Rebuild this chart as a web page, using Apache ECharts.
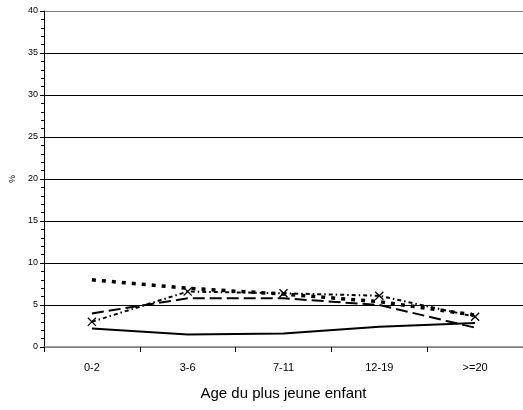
<!DOCTYPE html>
<html><head><meta charset="utf-8">
<script src="https://cdn.jsdelivr.net/npm/echarts@6/dist/echarts.min.js"></script>
<style>html,body{margin:0;padding:0;background:#fff}#c{width:523px;height:410px}</style>
</head><body><div id="c"></div>
<script>
const categories = ['0-2', '3-6', '7-11', '12-19', '>=20'];
const solidSeries = [2.2, 1.5, 1.6, 2.4, 2.85];
const longDashSeries = [4.0, 5.8, 5.8, 5.0, 2.3];
const squareDotSeries = [8.0, 7.0, 6.3, 5.4, 3.8];
const crossSeries = [3.0, 6.6, 6.4, 6.1, 3.6];
const yTicks = {min: 0, max: 40, interval: 5};

const X_PATH = 'path://M0,1L1,0L10,9L9,10Z M9,0L10,1L1,10L0,9Z';
const font = 'Liberation Sans, Arial, sans-serif';
const chart = echarts.init(document.getElementById('c'));
chart.setOption({
  animation: false,
  backgroundColor: '#fff',
  grid: {left: 41, right: 0, top: 11, bottom: 63},
  xAxis: {
    type: 'category', data: categories, boundaryGap: true,
    name: 'Age du plus jeune enfant', nameLocation: 'middle', nameGap: 39,
    nameTextStyle: {fontFamily: font, fontSize: 15, color: '#000'},
    axisLine: {lineStyle: {color: '#808080', width: 1.5}},
    axisTick: {show: true, length: 5, lineStyle: {color: '#000'}},
    axisLabel: {fontFamily: font, fontSize: 11, color: '#000', margin: 15}
  },
  yAxis: {
    type: 'value', min: yTicks.min, max: yTicks.max, interval: yTicks.interval,
    name: '%', nameLocation: 'middle', nameGap: 27, nameRotate: 90,
    nameTextStyle: {fontFamily: font, fontSize: 9, color: '#000'},
    axisLine: {show: true, lineStyle: {color: '#000'}},
    axisTick: {show: true, length: 4, lineStyle: {color: '#000'}},
    minorTick: {show: true, splitNumber: 5, length: 3, lineStyle: {color: '#000'}},
    axisLabel: {fontFamily: font, fontSize: 9, color: '#000', margin: 6},
    splitLine: {show: true, lineStyle: {width: 1,
      color: ['#808080', '#000', '#000', '#000', '#000', '#000', '#000', '#000', '#808080']}}
  },
  series: [
    {type: 'line', data: solidSeries, symbol: 'none', lineStyle: {color: '#000', width: 2, type: 'solid'}},
    {type: 'line', data: longDashSeries, symbol: 'none', lineStyle: {color: '#000', width: 2, type: [12, 5]}},
    {type: 'line', data: squareDotSeries, symbol: 'none', lineStyle: {color: '#000', width: 3.5, type: [4, 6], cap: 'butt'}},
    {type: 'line', data: crossSeries, symbol: X_PATH, symbolSize: 9,
      itemStyle: {color: '#000'}, lineStyle: {color: '#000', width: 2, type: [4, 3, 1.5, 3]}}
  ]
});
</script></body></html>
